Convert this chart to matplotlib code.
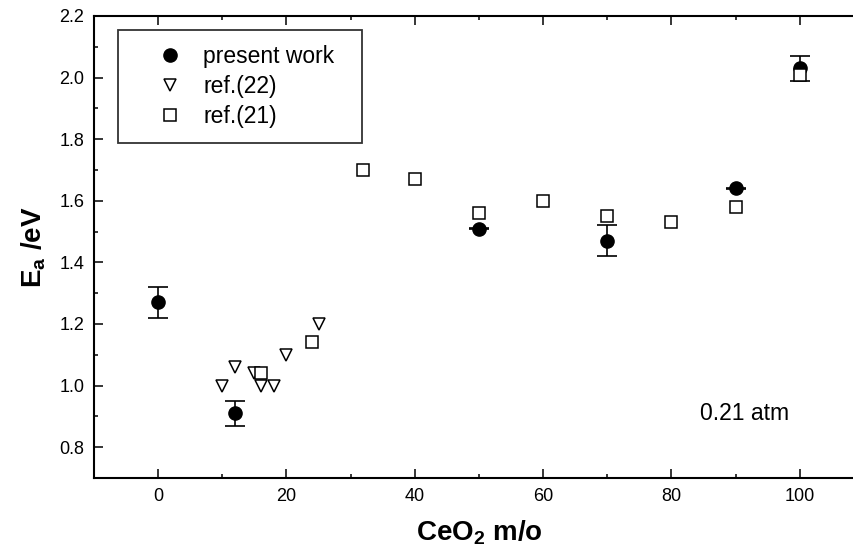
import matplotlib
matplotlib.use("Agg")
import matplotlib.pyplot as plt
from matplotlib.ticker import MultipleLocator

plt.rcParams["font.family"] = ["Liberation Sans", "DejaVu Sans"]
plt.rcParams["mathtext.fontset"] = "custom"
plt.rcParams["mathtext.rm"] = "Liberation Sans"
plt.rcParams["mathtext.bf"] = "Liberation Sans:bold"

# present work (with error bars)
pw_x = [0, 12, 50, 70, 90, 100]
pw_y = [1.27, 0.91, 1.51, 1.47, 1.64, 2.03]
pw_err = [0.05, 0.04, 0.002, 0.05, 0.002, 0.04]

# ref.(22)
r22_x = [10, 12, 15, 16, 18, 20, 25]
r22_y = [1.00, 1.06, 1.04, 1.00, 1.00, 1.10, 1.20]

# ref.(21)
r21_x = [16, 24, 32, 40, 50, 60, 70, 80, 90, 100]
r21_y = [1.04, 1.14, 1.70, 1.67, 1.56, 1.60, 1.55, 1.53, 1.58, 2.01]

W, H = 854, 557
fig = plt.figure(figsize=(W / 100, H / 100), dpi=100)
ax = fig.add_axes([94 / W, 1 - 478 / H, 770 / W, 462 / H])

ax.errorbar(pw_x, pw_y, yerr=pw_err, fmt="none", ecolor="black",
            elinewidth=1.2, capsize=7, capthick=1.2, zorder=3)
ax.plot(pw_x, pw_y, "o", color="black", ms=9.5, ls="none", zorder=3,
        label="present work")
ax.plot(r22_x, r22_y, "v", ms=8.5, mfc="white", mec="black", mew=1.1,
        ls="none", zorder=4, label="ref.(22)")
ax.plot(r21_x, r21_y, "s", ms=8, mfc="white", mec="black", mew=1.1,
        ls="none", zorder=5, label="ref.(21)")

ax.set_xlim(-10, 110)
ax.set_ylim(0.7, 2.2)
ax.xaxis.set_major_locator(MultipleLocator(20))
ax.xaxis.set_minor_locator(MultipleLocator(10))
ax.yaxis.set_major_locator(MultipleLocator(0.2))
ax.yaxis.set_minor_locator(MultipleLocator(0.1))
ax.yaxis.set_major_formatter(plt.FormatStrFormatter("%.1f"))
ax.tick_params(which="both", direction="in", top=True, right=True,
               width=1.1, labelsize=13)
ax.tick_params(which="major", length=6.5, pad=7)
ax.tick_params(which="minor", length=3)
for s in ax.spines.values():
    s.set_linewidth(1.5)

ax.set_xlabel(r"$\mathbf{CeO_2}$ m/o", fontsize=20, fontweight="bold",
              labelpad=10)
ax.set_ylabel(r"$\mathbf{E_a}$ /eV", fontsize=20, fontweight="bold",
              labelpad=8)

ax.text(84.4, 0.91, "0.21 atm", fontsize=16.5, ha="left", va="center")

leg = ax.legend(loc="upper left",
                bbox_to_anchor=(118 / W, 1 - 30 / H, 244 / W, 0),
                bbox_transform=fig.transFigure, borderaxespad=0,
                mode="expand", fontsize=16.5, frameon=True, fancybox=False,
                handlelength=3.23, handletextpad=-0.17, borderpad=0.65,
                labelspacing=0.3, numpoints=1)
leg.get_frame().set_edgecolor("black")
leg.get_frame().set_linewidth(1.3)

fig.savefig("out.png", dpi=100)
